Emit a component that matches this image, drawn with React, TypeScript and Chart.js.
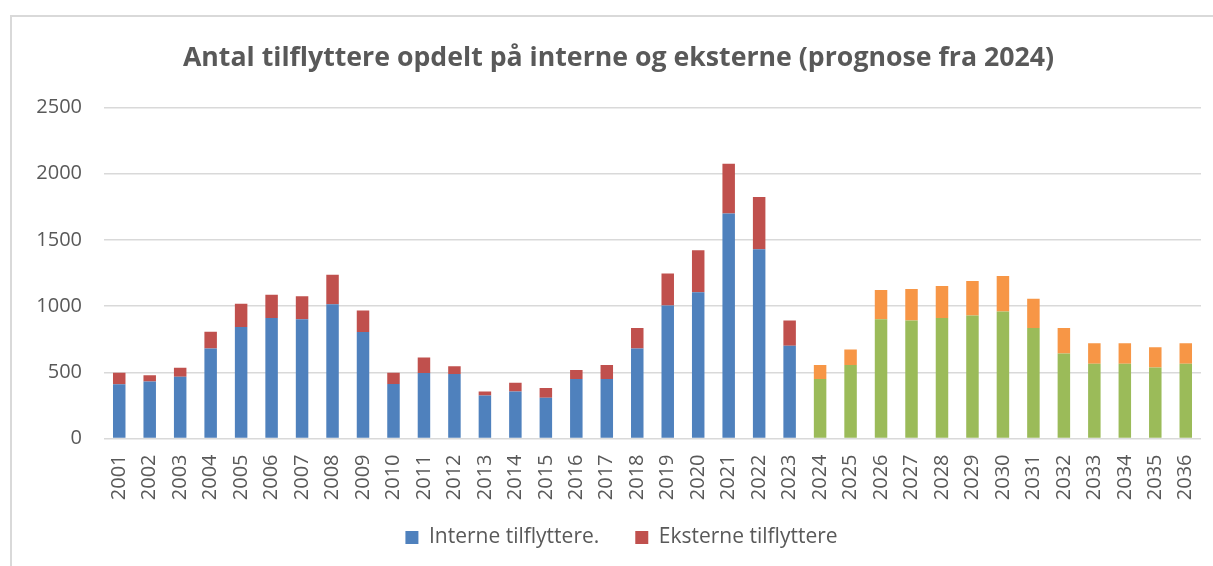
import React, { useEffect, useRef } from "react";
import { Chart, registerables } from "chart.js";

Chart.register(...registerables);

const years = [
  "2001", "2002", "2003", "2004", "2005", "2006", "2007", "2008", "2009", "2010",
  "2011", "2012", "2013", "2014", "2015", "2016", "2017", "2018", "2019", "2020",
  "2021", "2022", "2023", "2024", "2025", "2026", "2027", "2028", "2029", "2030",
  "2031", "2032", "2033", "2034", "2035", "2036",
];

const interne = [
  410, 430, 467, 680, 842, 910, 900, 1015, 805, 412,
  495, 487, 325, 355, 307, 450, 450, 680, 1005, 1105,
  1700, 1430, 700, 450, 555, 900, 892, 910, 930, 960,
  835, 642, 565, 565, 537, 565,
];

const eksterne = [
  87, 47, 68, 127, 175, 175, 175, 222, 162, 85,
  117, 58, 30, 67, 75, 67, 105, 155, 242, 317,
  375, 395, 192, 105, 117, 222, 238, 242, 260, 267,
  220, 193, 155, 155, 153, 155,
];

const forecastFrom = 2024;
const yTicks = [0, 500, 1000, 1500, 2000, 2500];

const BLUE = "#4F81BD";
const RED = "#C0504D";
const GREEN = "#9BBB59";
const ORANGE = "#F79646";
const TEXT = "#595959";
const GRID = "#D9D9D9";
const FONT = "'Open Sans', Lato, sans-serif";

const isForecast = (i: number | undefined) =>
  i !== undefined && Number(years[i]) >= forecastFrom;

const blockShift = {
  id: "blockShift",
  afterLayout(chart: any) {
    const lg = chart.legend;
    if (lg) {
      lg.top -= 13.5;
      lg.bottom -= 13.5;
      lg.left += 16;
      lg.right += 16;
    }
    const tb = chart.titleBlock;
    if (tb) {
      tb.left += 13;
      tb.right += 13;
    }
  },
};

export default function App() {
  const ref = useRef<HTMLCanvasElement | null>(null);

  useEffect(() => {
    if (!ref.current) return;
    const chart = new Chart(ref.current, {
      type: "bar",
      data: {
        labels: years,
        datasets: [
          {
            label: "Interne tilflyttere.",
            data: interne,
            backgroundColor: (ctx: any) => (isForecast(ctx.dataIndex) ? GREEN : BLUE),
            stack: "s",
            barPercentage: 0.41,
            categoryPercentage: 1,
          },
          {
            label: "Eksterne tilflyttere",
            data: eksterne,
            backgroundColor: (ctx: any) => (isForecast(ctx.dataIndex) ? ORANGE : RED),
            stack: "s",
            barPercentage: 0.41,
            categoryPercentage: 1,
          },
        ],
      },
      plugins: [blockShift],
      options: {
        animation: false,
        responsive: false,
        maintainAspectRatio: false,
        layout: { padding: { left: 10, right: 12, top: 15, bottom: -5.5 } },
        plugins: {
          title: {
            display: true,
            text: "Antal tilflyttere opdelt på interne og eksterne (prognose fra 2024)",
            color: TEXT,
            font: { family: FONT, size: 26.7, weight: "bold", lineHeight: 1.2 },
            padding: { top: 27, bottom: 33.5 },
          },
          legend: {
            position: "bottom",
            labels: {
              color: TEXT,
              font: { family: FONT, size: 21 },
              boxWidth: 13,
              boxHeight: 13,
              padding: 36,
            },
          },
          tooltip: { enabled: false },
        },
        scales: {
          x: {
            stacked: true,
            grid: { display: false },
            border: { display: false },
            ticks: {
              color: TEXT,
              font: { family: FONT, size: 20 },
              minRotation: 90,
              maxRotation: 90,
              autoSkip: false,
              padding: 8,
            },
            afterFit: (s: any) => {
              s.height = 66;
              s.paddingLeft = 0;
              s.paddingRight = 0;
            },
          },
          y: {
            stacked: true,
            min: 0,
            max: 2500,
            grid: { color: GRID, lineWidth: 1.5, drawTicks: false },
            border: { display: false },
            ticks: {
              color: TEXT,
              font: { family: FONT, size: 20 },
              padding: 22,
              stepSize: 500,
              callback: (v: any) => (yTicks.includes(Number(v)) ? String(v) : ""),
            },
            afterFit: (s: any) => {
              s.width = 94;
            },
          },
        },
      },
    });
    return () => chart.destroy();
  }, []);

  return (
    <div style={{ position: "absolute", left: 0, top: 0, width: 1213, height: 566, background: "#fff", overflow: "hidden" }}>
      <div
        style={{
          position: "absolute",
          left: 10,
          top: 15,
          width: 1400,
          height: 800,
          borderLeft: `2px solid ${GRID}`,
          borderTop: `2px solid ${GRID}`,
        }}
      />
      <canvas ref={ref} width={1213} height={566} style={{ position: "absolute", left: 0, top: 0, width: 1213, height: 566 }} />
    </div>
  );
}
